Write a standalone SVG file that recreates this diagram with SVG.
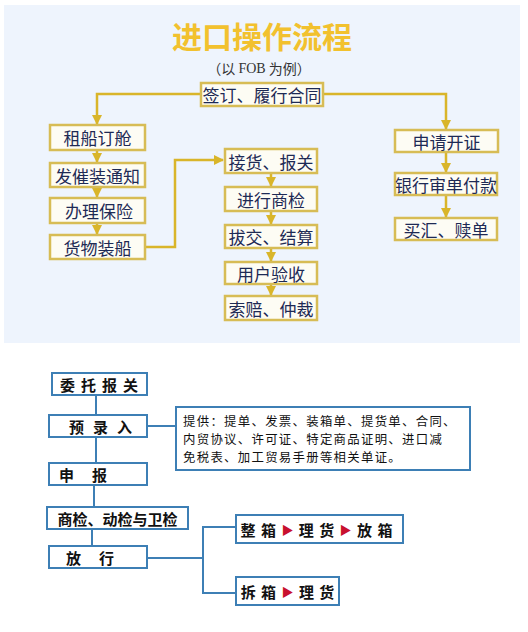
<svg xmlns="http://www.w3.org/2000/svg" width="528" height="632" viewBox="0 0 528 632">
<defs>
<style>
.cjk{font-family:"Noto Sans CJK SC","Noto Sans",sans-serif}
.gbox{fill:#fdfcf4;stroke:#d7bc55;stroke-width:2.5}
.gtxt{font-size:17px;fill:#1e2a55;text-anchor:middle;dominant-baseline:central}
.gline{fill:none;stroke:#d9b52a;stroke-width:2.5}
.bbox{fill:#ffffff;stroke:#3d7fb5;stroke-width:2}
.btxt{font-size:15px;font-weight:bold;fill:#111;text-anchor:middle;dominant-baseline:central}
.bline{fill:none;stroke:#3d7fb5;stroke-width:2}
.red{fill:#c8102e;font-size:12px}
</style>
<marker id="ga" viewBox="0 0 10 10" refX="9" refY="5" markerWidth="4" markerHeight="4" orient="auto" markerUnits="strokeWidth">
<path d="M0,0 L10,5 L0,10 z" fill="#d9b52a"/>
</marker>
</defs>
<rect x="0" y="0" width="528" height="632" fill="#ffffff"/>
<rect x="4" y="5" width="516" height="338" fill="#eef4fd"/>
<g id="title">
<text class="cjk" x="262" y="35" font-size="30" font-weight="bold" fill="#f2c12e" text-anchor="middle" dominant-baseline="central">进口操作流程</text>
<text x="259" y="68" font-family="'Noto Sans CJK SC',sans-serif" font-size="14" fill="#333" text-anchor="middle" dominant-baseline="central">（以 <tspan font-family="'Liberation Serif',serif" font-size="14">FOB</tspan> 为例）</text>
</g>
<g id="connectors">
<path class="gline" d="M201,94 H97 V124" marker-end="url(#ga)"/>
<path class="gline" d="M323,94 H446 V129" marker-end="url(#ga)"/>
<path class="gline" d="M97,150 V162" marker-end="url(#ga)"/>
<path class="gline" d="M97,187 V197" marker-end="url(#ga)"/>
<path class="gline" d="M97,223 V234" marker-end="url(#ga)"/>
<path class="gline" d="M145,247 H175 V160 H223" marker-end="url(#ga)"/>
<path class="gline" d="M271,173 V186" marker-end="url(#ga)"/>
<path class="gline" d="M271,211 V224" marker-end="url(#ga)"/>
<path class="gline" d="M271,248 V261" marker-end="url(#ga)"/>
<path class="gline" d="M271,284 V295" marker-end="url(#ga)"/>
<path class="gline" d="M446,152 V172" marker-end="url(#ga)"/>
<path class="gline" d="M446,195 V217" marker-end="url(#ga)"/>
<path class="bline" d="M96,395 V415"/>
<path class="bline" d="M96,437 V463"/>
<path class="bline" d="M147,426 H176"/>
<path class="bline" d="M94,485 V507"/>
<path class="bline" d="M92,529 V546"/>
<path class="bline" d="M147,558 H203"/>
<path class="bline" d="M236,527 H203 V593 H236"/>
</g>
<g id="n-sign">
<rect class="gbox" x="201" y="83" width="122" height="23"/>
<text class="cjk gtxt" x="262" y="94.5">签订、履行合同</text>
</g>
<g id="n-charter">
<rect class="gbox" x="50" y="125" width="95" height="25"/>
<text class="cjk gtxt" x="97.5" y="137.5">租船订舱</text>
</g>
<g id="n-notice">
<rect class="gbox" x="50" y="163" width="95" height="24"/>
<text class="cjk gtxt" x="97.5" y="175">发催装通知</text>
</g>
<g id="n-insure">
<rect class="gbox" x="50" y="198" width="95" height="25"/>
<text class="cjk gtxt" x="99" y="210.5">办理保险</text>
</g>
<g id="n-load">
<rect class="gbox" x="50" y="235" width="95" height="24"/>
<text class="cjk gtxt" x="97.5" y="247">货物装船</text>
</g>
<g id="n-receive">
<rect class="gbox" x="225" y="149" width="92" height="24"/>
<text class="cjk gtxt" x="271" y="161">接货、报关</text>
</g>
<g id="n-inspect">
<rect class="gbox" x="225" y="187" width="92" height="24"/>
<text class="cjk gtxt" x="271" y="199">进行商检</text>
</g>
<g id="n-settle">
<rect class="gbox" x="225" y="225" width="92" height="23"/>
<text class="cjk gtxt" x="271" y="236.5">拔交、结算</text>
</g>
<g id="n-accept">
<rect class="gbox" x="225" y="262" width="92" height="22"/>
<text class="cjk gtxt" x="271" y="273">用户验收</text>
</g>
<g id="n-claim">
<rect class="gbox" x="225" y="296" width="92" height="24"/>
<text class="cjk gtxt" x="271" y="308">索赔、仲裁</text>
</g>
<g id="n-lc">
<rect class="gbox" x="395" y="130" width="103" height="22"/>
<text class="cjk gtxt" x="446.5" y="141">申请开证</text>
</g>
<g id="n-bank">
<rect class="gbox" x="395" y="173" width="102" height="22"/>
<text class="cjk gtxt" x="446" y="184">银行审单付款</text>
</g>
<g id="n-redeem">
<rect class="gbox" x="395" y="218" width="102" height="22"/>
<text class="cjk gtxt" x="446" y="229">买汇、赎单</text>
</g>
<g id="n-entrust">
<rect class="bbox" x="52" y="373" width="95" height="22"/>
<text class="cjk btxt" x="102" y="384" letter-spacing="6">委托报关</text>
</g>
<g id="n-prerecord">
<rect class="bbox" x="49" y="415" width="98" height="22"/>
<text class="cjk btxt" x="105" y="426" letter-spacing="9">预录入</text>
</g>
<g id="n-info">
<rect class="bbox" x="176" y="407" width="294" height="63"/>
<text class="cjk" font-size="12.4" letter-spacing="1.3" fill="#111" dominant-baseline="central"><tspan x="183" y="421">提供：提单、发票、装箱单、提货单、合同、</tspan><tspan x="183" y="439">内贸协议、许可证、特定商品证明、进口减</tspan><tspan x="183" y="457">免税表、加工贸易手册等相关单证。</tspan></text>
</g>
<g id="n-declare">
<rect class="bbox" x="49" y="463" width="98" height="22"/>
<text class="cjk btxt" x="92" y="474" letter-spacing="18">申报</text>
</g>
<g id="n-check">
<rect class="bbox" x="47" y="507" width="141" height="22"/>
<text class="cjk btxt" x="117.5" y="518">商检、动检与卫检</text>
</g>
<g id="n-release">
<rect class="bbox" x="49" y="546" width="98" height="22"/>
<text class="cjk btxt" x="99" y="557" letter-spacing="18">放行</text>
</g>
<g id="n-fcl">
<rect class="bbox" x="236" y="515" width="167" height="28"/>
<text class="cjk btxt" x="317" y="529" letter-spacing="1">整 箱 <tspan class="red">▶</tspan> 理 货 <tspan class="red">▶</tspan> 放 箱</text>
</g>
<g id="n-lcl">
<rect class="bbox" x="236" y="577" width="103" height="28"/>
<text class="cjk btxt" x="288" y="591" letter-spacing="1">拆 箱 <tspan class="red">▶</tspan> 理 货</text>
</g>
</svg>
